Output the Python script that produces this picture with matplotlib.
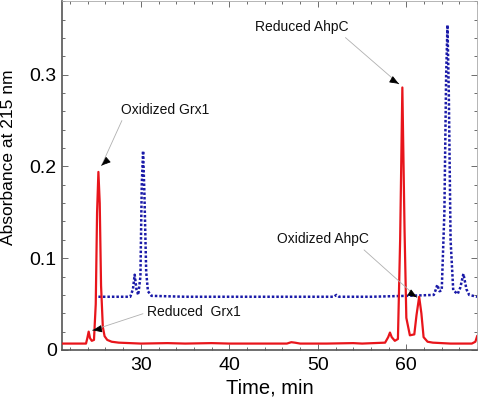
import matplotlib
matplotlib.use("Agg")
import matplotlib.pyplot as plt
import matplotlib.ticker as mticker

# ── dados lidos do cromatograma ──
# traço vermelho (amostra reduzida)
t_red = [21.0, 23.8, 23.95, 24.1, 24.25, 24.45, 24.7, 24.9, 25.05, 25.2, 25.35,
         25.5, 25.7, 25.9, 26.2, 26.7, 27.5, 30.0, 33.0, 35.0, 38.0, 40.0, 43.0,
         46.5, 47.0, 47.4, 48.0, 51.0, 54.0, 55.0, 57.6, 57.95, 58.15, 58.35,
         58.7, 59.05, 59.3, 59.55, 59.8, 60.0, 60.4, 60.9, 61.15, 61.45, 61.7,
         61.95, 62.4, 63.0, 65.0, 67.4, 67.8, 68.0]
a_red = [0.007, 0.007, 0.013, 0.020, 0.013, 0.010, 0.011, 0.050, 0.150, 0.194,
         0.160, 0.070, 0.025, 0.015, 0.011, 0.009, 0.008, 0.007, 0.0075, 0.007,
         0.0075, 0.007, 0.007, 0.007, 0.0085, 0.008, 0.007, 0.007, 0.0075, 0.007,
         0.008, 0.014, 0.019, 0.014, 0.010, 0.012, 0.120, 0.286, 0.130, 0.035,
         0.016, 0.017, 0.038, 0.058, 0.040, 0.014, 0.009, 0.008, 0.007, 0.007,
         0.009, 0.015]

# traço azul pontilhado (amostra oxidada)
t_blue = [25.2, 28.8, 29.1, 29.3, 29.5, 29.7, 29.95, 30.1, 30.25, 30.4, 30.6,
          30.8, 31.2, 35.0, 40.0, 45.0, 51.8, 52.1, 52.4, 56.0, 60.0, 63.1,
          63.3, 63.5, 63.75, 64.0, 64.3, 64.5, 64.65, 64.8, 65.0, 65.3, 65.8,
          66.1, 66.45, 66.8, 67.1, 68.0]
a_blue = [0.058, 0.058, 0.066, 0.082, 0.066, 0.060, 0.080, 0.180, 0.217, 0.170,
          0.085, 0.064, 0.059, 0.058, 0.058, 0.058, 0.058, 0.060, 0.058, 0.058,
          0.059, 0.060, 0.065, 0.071, 0.064, 0.065, 0.150, 0.300, 0.354, 0.280,
          0.120, 0.065, 0.061, 0.068, 0.083, 0.066, 0.060, 0.058]

# anotações: texto, posição do texto, ponta da seta, ponto de saída relativo
rotulos = ["Oxidized Grx1", "Reduced AhpC", "Reduced  Grx1", "Oxidized AhpC"]
pos_texto = [(32.75, 0.262), (48.2, 0.352), (36.0, 0.041), (50.6, 0.1207)]
pontas = [(25.55, 0.201), (59.15, 0.290), (24.55, 0.0215), (61.2, 0.0575)]
rel_saida = [(0.03, 0.0), (0.92, 0.0), (0.0, 0.5), (0.9, 0.0)]

plt.rcParams["font.family"] = ["Liberation Sans", "DejaVu Sans"]

fig = plt.figure(figsize=(4.8, 4.0), dpi=100)
ax = fig.add_axes([0.1285, 0.125, 0.8655, 0.872])

ax.plot(t_red, a_red, color="#e8151b", linewidth=1.6, zorder=3)
ax.plot(t_blue, a_blue, color="#1a1aa8", linewidth=1.8, linestyle=(0, (1, 0.8)),
        zorder=2)

for texto, pt, tip, rp in zip(rotulos, pos_texto, pontas, rel_saida):
    ax.annotate(texto, xy=tip, xytext=pt, ha="center", va="center",
                fontsize=10, color="#111111",
                arrowprops=dict(arrowstyle="-", color="#b0b0b0", lw=0.6,
                                relpos=rp, shrinkA=1, shrinkB=0))
    # cabeça da seta preta
    x0, y0 = ax.transData.transform(tip)
    x1, y1 = ax.transData.transform(pt)
    dx, dy = x1 - x0, y1 - y0
    d = (dx ** 2 + dy ** 2) ** 0.5
    inicio = ax.transData.inverted().transform((x0 + dx / d * 9, y0 + dy / d * 9))
    ax.annotate("", xy=tip, xytext=tuple(inicio),
                arrowprops=dict(arrowstyle="-|>,head_length=0.55,head_width=0.22",
                                color="black", lw=0.6, shrinkA=0, shrinkB=0))

ax.set_xlim(21.05, 68.0)
ax.set_ylim(0, 0.38)
ax.xaxis.set_major_locator(mticker.MultipleLocator(10))
ax.xaxis.set_minor_locator(mticker.MultipleLocator(2))
ax.yaxis.set_major_locator(mticker.MultipleLocator(0.1))
ax.yaxis.set_minor_locator(mticker.MultipleLocator(0.02))
ax.yaxis.set_major_formatter(mticker.FuncFormatter(
    lambda v, _: "0" if abs(v) < 1e-9 else f"{v:.1f}"))
ax.tick_params(which="both", direction="in", top=True, right=True,
               labelsize=14, colors="#555555", labelcolor="black")
ax.tick_params(which="major", length=4, width=0.6)
ax.tick_params(which="minor", length=2.5, width=0.6)
ax.tick_params(axis="x", pad=5)

for lado, spine in ax.spines.items():
    spine.set_color("#555555" if lado in ("left", "bottom") else "#aaaaaa")
    spine.set_linewidth(1.2 if lado in ("left", "bottom") else 0.6)

ax.set_xlabel("Time, min", fontsize=14.5, labelpad=3)
ax.set_ylabel("Absorbance at 215 nm", fontsize=12.5, va="center")
ax.yaxis.set_label_coords(-0.127, 0.553)

plt.savefig("out.png", dpi=100)
